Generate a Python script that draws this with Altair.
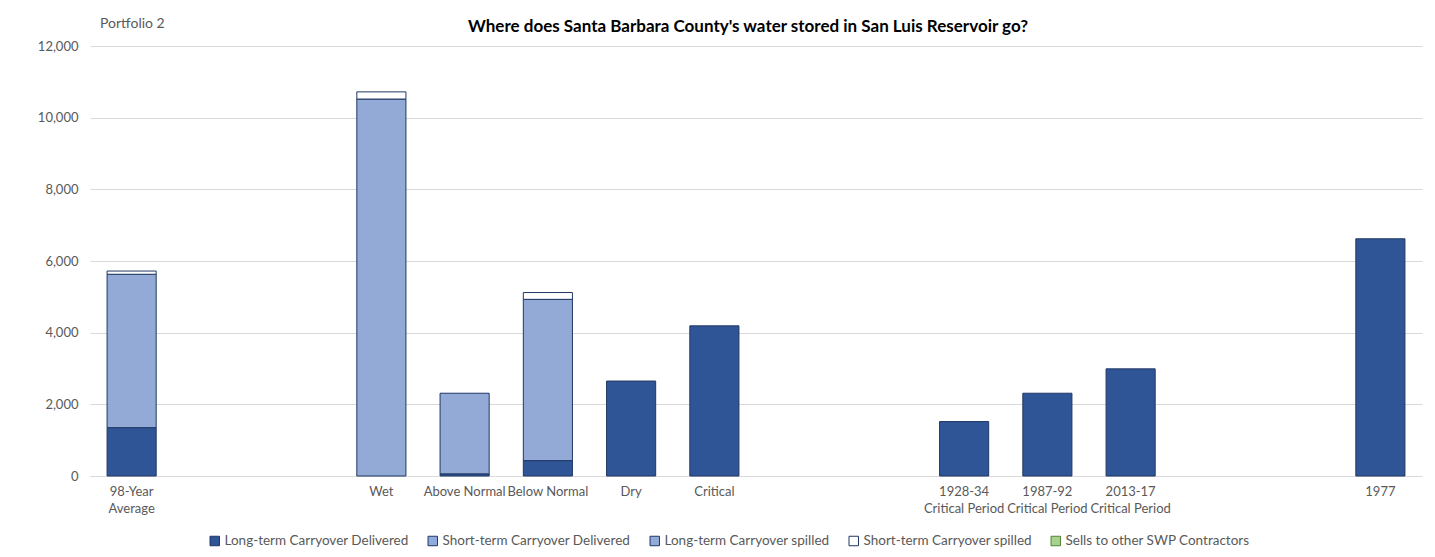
import altair as alt
import pandas as pd

categories = ["98-Year|Average", " ", "  ", "Wet", "Above Normal", "Below Normal", "Dry", "Critical",
              "   ", "    ", "1928-34|Critical Period", "1987-92|Critical Period", "2013-17|Critical Period",
              "     ", "      ", "1977"]
series = ["Long-term Carryover Delivered", "Short-term Carryover Delivered", "Long-term Carryover spilled",
          "Short-term Carryover spilled", "Sells to other SWP Contractors"]

lt_delivered = [1350, 0, 0, 0, 60, 430, 2650, 4190, 0, 0, 1520, 2310, 2990, 0, 0, 6620]
st_delivered = [0] * 16
lt_spilled = [4280, 0, 0, 10520, 2250, 4500, 0, 0, 0, 0, 0, 0, 0, 0, 0, 0]
st_spilled = [90, 0, 0, 200, 0, 190, 0, 0, 0, 0, 0, 0, 0, 0, 0, 0]
sells = [0] * 16

fills = ["#2F5597", "#8FAADC", "#93A9D6", "#FFFFFF", "#A9D18E"]
strokes = ["#203864", "#203864", "#203864", "#203864", "#548235"]

rows = []
for i, cat in enumerate(categories):
    for k, (name, vals) in enumerate(zip(series, [lt_delivered, st_delivered, lt_spilled, st_spilled, sells])):
        if vals[i] > 0:
            rows.append({"category": cat, "series": name, "value": vals[i], "order": k})
df = pd.DataFrame(rows)

FONT = "Lato"
GRAY = "#595959"

bars = alt.Chart(df).mark_bar(strokeWidth=1).encode(
    x=alt.X("category:N", sort=categories,
            scale=alt.Scale(domain=categories, paddingInner=0.41, paddingOuter=0.205),
            axis=alt.Axis(title=None, labelAngle=0, labelExpr="split(datum.value, '|')",
                          ticks=False, domainColor="#D9D9D9", labelColor=GRAY, labelFontSize=13,
                          labelFont=FONT, labelPadding=9, labelLineHeight=17)),
    y=alt.Y("value:Q", stack="zero",
            scale=alt.Scale(domain=[0, 12000], nice=False),
            axis=alt.Axis(title=None, format=",.0f", values=[0, 2000, 4000, 6000, 8000, 10000, 12000],
                          ticks=False, domain=False, gridColor="#D9D9D9", labelColor=GRAY,
                          labelFontSize=13, labelFont=FONT, labelPadding=12)),
    fill=alt.Fill("series:N", scale=alt.Scale(domain=series, range=fills),
                  legend=alt.Legend(title=None, orient="none", direction="horizontal",
                                    legendX=118, legendY=488, columns=5, columnPadding=17,
                                    symbolType="square", symbolSize=90, symbolStrokeWidth=1,
                                    labelFont=FONT, labelFontSize=13.5, labelColor=GRAY,
                                    labelOffset=3, labelLimit=0)),
    stroke=alt.Stroke("series:N", scale=alt.Scale(domain=series, range=strokes), legend=None),
    order=alt.Order("order:Q"),
)

portfolio = alt.Chart(pd.DataFrame({"t": ["Portfolio 2"]})).mark_text(
    align="left", baseline="middle", font=FONT, fontSize=14, color=GRAY
).encode(text="t:N", x=alt.value(10), y=alt.value(-22))

title = alt.Chart(pd.DataFrame({"t": ["Where does Santa Barbara County's water stored in San Luis Reservoir go?"]})).mark_text(
    align="center", baseline="middle", font=FONT, fontSize=17, fontWeight="bold", color="#000000"
).encode(text="t:N", x=alt.value(658), y=alt.value(-19))

chart = alt.layer(bars, portfolio, title).properties(
    width=1332, height=430,
    autosize=alt.AutoSizeParams(type="none"),
    padding={"left": 82, "top": 38, "right": 5, "bottom": 73},
).configure_view(stroke=None).configure_legend(
    symbolStrokeColor="#203864"
)

chart.save("out.html", embed_options={"renderer": "svg", "actions": False})
